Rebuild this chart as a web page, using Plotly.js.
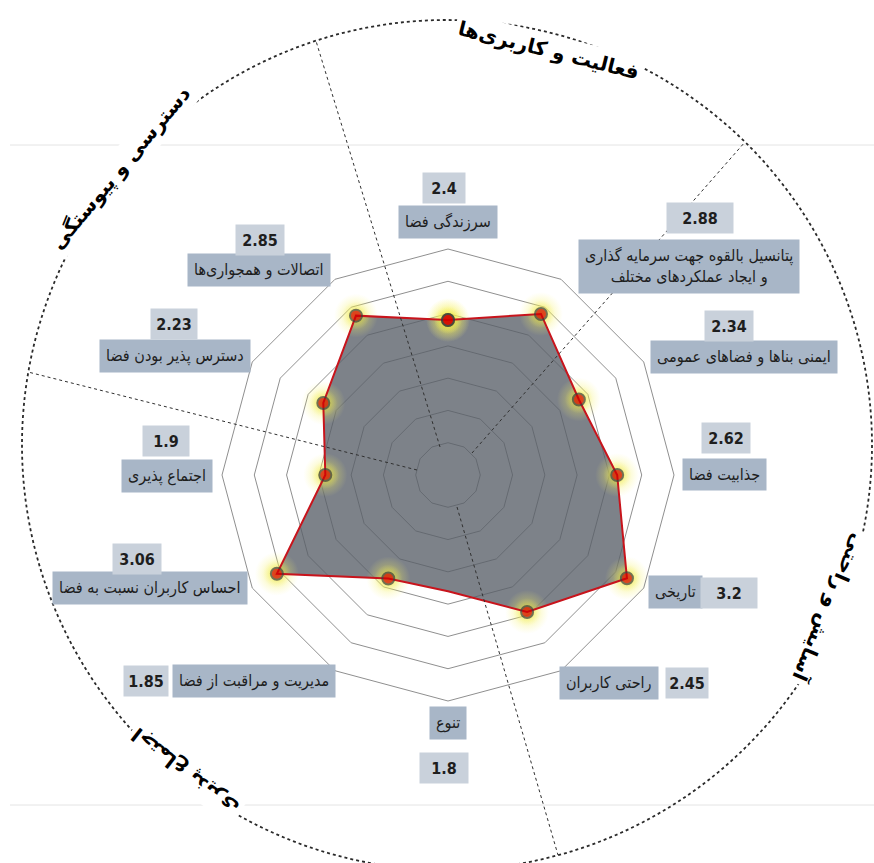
<!DOCTYPE html>
<html>
<head>
<meta charset="utf-8">
<script src="https://cdn.plot.ly/plotly-3.0.1.min.js"></script>
<style>html,body{margin:0;padding:0;background:#fff;}#chart{width:874px;height:863px;}</style>
</head>
<body>
<div id="chart"></div>
<script>
// ---- data ----
const categories = [
  "سرزندگی فضا",
  "پتانسیل بالقوه جهت سرمایه گذاری و ایجاد عملکردهای مختلف",
  "ایمنی بناها و فضاهای عمومی",
  "جذابیت فضا",
  "تاریخی",
  "راحتی کاربران",
  "تنوع",
  "مدیریت و مراقبت از فضا",
  "احساس کاربران نسبت به فضا",
  "اجتماع پذیری",
  "دسترس پذیر بودن فضا",
  "اتصالات و همجواری‌ها"
];
const values = [2.4, 2.88, 2.34, 2.62, 3.2, 2.45, 1.8, 1.85, 3.06, 1.9, 2.23, 2.85];
const categoryLabels = [
  "سرزندگی فضا",
  "پتانسیل بالقوه جهت سرمایه گذاری<br>و ایجاد عملکردهای مختلف",
  "ایمنی بناها و فضاهای عمومی",
  "جذابیت فضا",
  "تاریخی",
  "راحتی کاربران",
  "تنوع",
  "مدیریت و مراقبت از فضا",
  "احساس کاربران نسبت به فضا",
  "اجتماع پذیری",
  "دسترس پذیر بودن فضا",
  "اتصالات و همجواری‌ها"
];
const sectionTitles = ["فعالیت و کاربری‌ها", "دسترسی و پیوستگی", "آسایش و راحتی", "اجتماع پذیری"];
const hiddenMarker = "تنوع";

// ---- layout helpers (pixel -> paper) ----
const W = 874, H = 863;
const px = x => x / W;
const py = y => 1 - y / H;

// label box centres in pixels: [name, value]
const labelPos = [
  [[448,222],[444,188]],
  [[689,266],[700,218]],
  [[744,357],[729,326]],
  [[724,475],[726,438]],
  [[675,592],[729,593]],
  [[609,683],[687,683]],
  [[448,723],[444,768]],
  [[254,681],[146,681]],
  [[150,588],[137,559]],
  [[167,476],[166,441]],
  [[175,356],[174,324]],
  [[259,270],[260,240]]
];
const valueBoxW = [40,64,46,46,54,40,46,42,46,44,44,46];

const thetaClosed = categories.concat([categories[0]]);
const rClosed = values.concat([values[0]]);
const sizesFor = s => categories.map(c => c === hiddenMarker ? 0 : s).concat([s]);

const glowTrace = (size, centre) => ({
  type: 'scatterpolar', mode: 'markers', r: rClosed, theta: thetaClosed,
  marker: {size: sizesFor(size), color: 'rgba(250,245,120,0)',
           gradient: {type: 'radial', color: centre}, line: {width: 0}},
  hoverinfo: 'skip'
});

const traces = [
  {
    type: 'scatterpolar', mode: 'lines', r: rClosed, theta: thetaClosed,
    fill: 'toself', fillcolor: 'rgba(88,95,104,0.78)',
    line: {color: 'rgba(0,0,0,0)', width: 0}, hoverinfo: 'skip'
  },
  glowTrace(44, 'rgba(235,230,40,0.9)'),
  glowTrace(28, 'rgba(230,225,30,0.9)'),
  {
    type: 'scatterpolar', mode: 'lines+markers', r: rClosed, theta: thetaClosed,
    line: {color: '#c8141c', width: 2},
    marker: {size: sizesFor(12), color: '#d40000', line: {color: '#3c3c3c', width: 2}}
  }
];

const annotations = [];
categories.forEach((c, i) => {
  const [n, v] = labelPos[i];
  annotations.push({
    xref: 'paper', yref: 'paper', x: px(n[0]), y: py(n[1]),
    xanchor: 'center', yanchor: 'middle', showarrow: false,
    text: categoryLabels[i], align: 'center',
    font: {family: 'DejaVu Sans Condensed, DejaVu Sans', size: 16, color: '#1e1e1e'},
    bgcolor: '#a8b6c7', borderpad: 6
  });
  annotations.push({
    xref: 'paper', yref: 'paper', x: px(v[0]), y: py(v[1]),
    xanchor: 'center', yanchor: 'middle', showarrow: false,
    text: '<b>' + String(values[i]) + '</b>',
    font: {family: 'DejaVu Sans Condensed, DejaVu Sans', size: 16, color: '#1e1e1e'},
    bgcolor: '#c9d1db', width: valueBoxW[i], height: 28
  });
});

const titlePos = [[548,50,14],[120,168,-50],[830,608,113],[185,772,-142]];
sectionTitles.forEach((t, i) => {
  annotations.push({
    xref: 'paper', yref: 'paper', x: px(titlePos[i][0]), y: py(titlePos[i][1]),
    xanchor: 'center', yanchor: 'middle', showarrow: false,
    text: '<b>' + t + '</b>', textangle: titlePos[i][2],
    font: {family: 'DejaVu Sans', size: 20, color: '#000'},
    bgcolor: '#ffffff', borderpad: 3
  });
});

// decorative circle and sector dividers
const shapes = [
  {type: 'line', xref: 'paper', yref: 'paper', x0: px(10), x1: 1, y0: py(145), y1: py(145),
   line: {color: '#e4e4e4', width: 1}, layer: 'below'},
  {type: 'line', xref: 'paper', yref: 'paper', x0: px(10), x1: 1, y0: py(805), y1: py(805),
   line: {color: '#e4e4e4', width: 1}, layer: 'below'},
  {type: 'circle', xref: 'paper', yref: 'paper',
   x0: px(447-425), x1: px(447+425), y0: py(445+425), y1: py(445-425),
   line: {color: '#2a2a2a', width: 1.8, dash: 'dot'}, layer: 'below'}
];
const dividers = [[440,447,316,41],[472,453,745,142],[417,470,28,372],[457,507,558,855]];
dividers.forEach(d => shapes.push({
  type: 'line', xref: 'paper', yref: 'paper',
  x0: px(d[0]), y0: py(d[1]), x1: px(d[2]), y1: py(d[3]),
  line: {color: '#303030', width: 1, dash: 'dot'}
}));

const layout = {
  width: W, height: H, margin: {l: 0, r: 0, t: 0, b: 0},
  paper_bgcolor: '#ffffff', showlegend: false,
  polar: {
    domain: {x: [px(222), px(674)], y: [py(701), py(249)]},
    bgcolor: 'rgba(0,0,0,0)',
    radialaxis: {range: [0, 3.5], tickvals: [0.5,1,1.5,2,2.5,3], showticklabels: false,
                 ticks: '', showline: false, gridcolor: '#8f8f8f', gridwidth: 1},
    angularaxis: {rotation: 90, direction: 'clockwise', showticklabels: false, ticks: '',
                  showgrid: false, showline: true, linecolor: '#8f8f8f', linewidth: 1},
    gridshape: 'linear'
  },
  annotations: annotations,
  shapes: shapes
};

Plotly.newPlot('chart', traces, layout, {displayModeBar: false, staticPlot: true});
</script>
</body>
</html>
